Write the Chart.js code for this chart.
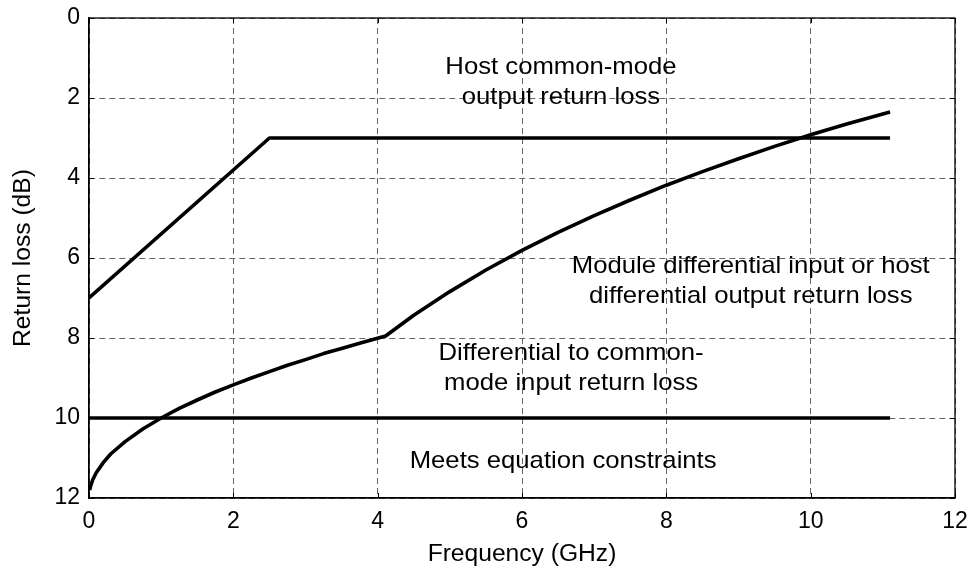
<!DOCTYPE html>
<html>
<head>
<meta charset="utf-8">
<title>Return loss</title>
<script src="https://cdn.jsdelivr.net/npm/chart.js@4.4.0/dist/chart.umd.min.js"></script>
<style>
    html, body { margin: 0; padding: 0; background: #fff; }
    #wrap { width: 973px; height: 571px; position: relative; }
</style>
</head>
<body>
<div id="wrap"><canvas id="rl"></canvas></div>
<script>
(function () {
    "use strict";

    // return loss limits, frequency in GHz, loss in dB
    const hostCmFreq = [0, 2.5, 11.1];
    const hostCmLoss = [7, 3, 3];

    const diffCmFreq = [0, 11.1];
    const diffCmLoss = [10, 10];

    const moduleFreq = [0.01, 0.02, 0.05, 0.1, 0.2, 0.3, 0.5, 0.75, 1, 1.25, 1.5, 1.75, 2, 2.25, 2.5, 2.75,
        3, 3.25, 3.5, 3.75, 4.11, 4.5, 5, 5.5, 6, 6.5, 7, 7.5, 8, 8.5, 9, 9.5, 10, 10.5, 11.1];
    const moduleLoss = [11.8, 11.72, 11.55, 11.37, 11.11, 10.9, 10.59, 10.27, 10, 9.76, 9.55, 9.35, 9.17, 9.0, 8.84, 8.68,
        8.54, 8.39, 8.26, 8.13, 7.95, 7.43, 6.84, 6.3, 5.81, 5.36, 4.94, 4.55, 4.18, 3.84, 3.52, 3.21, 2.92, 2.65, 2.35];

    const xTicks = [0, 2, 4, 6, 8, 10, 12];
    const yTicks = [0, 2, 4, 6, 8, 10, 12];

    const xTitle = 'Frequency (GHz)';
    const yTitle = 'Return loss (dB)';

    const FONT = 'Liberation Sans, Arial, Helvetica, sans-serif';
    const STRETCH = 1.07;

    function points(xs, ys) {
        return xs.map((x, i) => ({ x: x, y: ys[i] }));
    }

    function limitLine(xs, ys) {
        return {
            data: points(xs, ys),
            borderColor: '#000',
            borderWidth: 3.6,
            pointRadius: 0,
            tension: 0,
            fill: false,
            borderCapStyle: 'butt',
            borderJoinStyle: 'round'
        };
    }

    // text placed in data units: [freq, loss of first baseline, lines]
    const notes = [
        [6.54, 1.4, ['Host common-mode', 'output return loss']],
        [9.17, 6.375, ['Module differential input or host', 'differential output return loss']],
        [6.68, 8.55, ['Differential to common-', 'mode input return loss']],
        [6.57, 11.25, ['Meets equation constraints']]
    ];

    // slightly widened text, like the original export
    function wideText(ctx, text, x, y, angle) {
        ctx.save();
        ctx.translate(x, y);
        ctx.rotate(angle || 0);
        ctx.scale(STRETCH, 1);
        ctx.fillText(text, 0, 0);
        ctx.restore();
    }

    const framePlugin = {
        id: 'frame',
        afterDatasetsDraw(chart) {
            const ctx = chart.ctx;
            const a = chart.chartArea;
            const xs = chart.scales.x;
            const ys = chart.scales.y;

            ctx.save();
            ctx.strokeStyle = '#000';
            ctx.lineWidth = 1.3;
            ctx.strokeRect(a.left, a.top, a.right - a.left, a.bottom - a.top);

            // small inward ticks on all four sides
            ctx.lineWidth = 1;
            ctx.beginPath();
            xTicks.forEach(v => {
                const px = Math.round(xs.getPixelForValue(v)) + 0.5;
                ctx.moveTo(px, a.bottom); ctx.lineTo(px, a.bottom - 5);
                ctx.moveTo(px, a.top); ctx.lineTo(px, a.top + 5);
            });
            yTicks.forEach(v => {
                const py = Math.round(ys.getPixelForValue(v)) + 0.5;
                ctx.moveTo(a.left, py); ctx.lineTo(a.left + 5, py);
                ctx.moveTo(a.right, py); ctx.lineTo(a.right - 5, py);
            });
            ctx.stroke();

            ctx.fillStyle = '#000';
            ctx.font = '24px ' + FONT;
            ctx.textAlign = 'center';
            ctx.textBaseline = 'alphabetic';
            notes.forEach(n => {
                const px = xs.getPixelForValue(n[0]);
                const py = ys.getPixelForValue(n[1]);
                n[2].forEach((line, i) => wideText(ctx, line, px, py + i * 30));
            });

            // axis titles
            ctx.font = '23px ' + FONT;
            ctx.textBaseline = 'middle';
            wideText(ctx, xTitle, (a.left + a.right) / 2, a.bottom + 57);
            wideText(ctx, yTitle, 24, (a.top + a.bottom) / 2, -Math.PI / 2);
            ctx.restore();
        }
    };

    new Chart(document.getElementById('rl'), {
        type: 'line',
        data: {
            datasets: [
                limitLine(hostCmFreq, hostCmLoss),
                limitLine(moduleFreq, moduleLoss),
                limitLine(diffCmFreq, diffCmLoss)
            ]
        },
        options: {
            responsive: true,
            maintainAspectRatio: false,
            animation: false,
            events: [],
            layout: { padding: { left: 0, top: 18, right: 18, bottom: 0 } },
            plugins: {
                legend: { display: false },
                tooltip: { enabled: false }
            },
            scales: {
                x: {
                    type: 'linear',
                    min: 0,
                    max: 12,
                    afterFit(scale) {
                        scale.height = 73;
                        scale.paddingLeft = 0;
                        scale.paddingRight = 0;
                    },
                    afterBuildTicks(scale) { scale.ticks = xTicks.map(v => ({ value: v })); },
                    ticks: {
                        color: '#000',
                        padding: 10,
                        font: { family: FONT, size: 23 },
                        maxRotation: 0
                    },
                    grid: {
                        color: '#666',
                        lineWidth: 1,
                        drawTicks: false
                    },
                    border: { display: true, color: '#000', width: 1.3, dash: [6, 4] }
                },
                y: {
                    type: 'linear',
                    reverse: true,
                    min: 0,
                    max: 12,
                    afterFit(scale) {
                        scale.width = 89;
                        scale.paddingTop = 0;
                        scale.paddingBottom = 0;
                    },
                    afterBuildTicks(scale) { scale.ticks = yTicks.map(v => ({ value: v })); },
                    ticks: {
                        color: '#000',
                        padding: 9,
                        font: { family: FONT, size: 23 }
                    },
                    grid: {
                        color: '#666',
                        lineWidth: 1,
                        drawTicks: false
                    },
                    border: { display: true, color: '#000', width: 1.3, dash: [6, 4] }
                }
            }
        },
        plugins: [framePlugin]
    });
})();
</script>
</body>
</html>
